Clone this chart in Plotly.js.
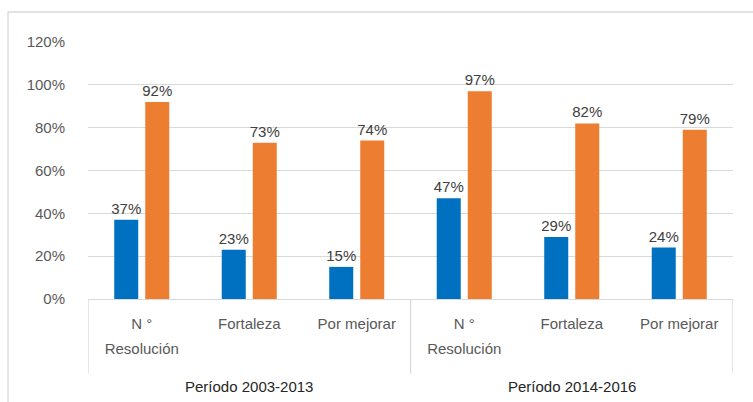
<!DOCTYPE html>
<html>
<head>
<meta charset="utf-8">
<script src="https://cdn.plot.ly/plotly-3.0.1.min.js"></script>
<style>html,body{margin:0;padding:0;background:#fff;}#chart{width:753px;height:402px;}</style>
</head>
<body>
<div id="chart"></div>
<script>
const periods = ["Período 2003-2013", "Período 2014-2016"];
const categories = ["N °<br>Resolución", "Fortaleza", "Por mejorar"];
const seriesBlue = [0.37, 0.23, 0.15, 0.47, 0.29, 0.24];
const seriesOrange = [0.92, 0.73, 0.74, 0.97, 0.82, 0.79];
const yTicks = [0, 0.2, 0.4, 0.6, 0.8, 1.0, 1.2];
const yTickText = ["0%", "20%", "40%", "60%", "80%", "100%", "120%"];

const xPos = [];
const xLabels = [];
const wrap15 = s => s.split("<br>").map(l => "<span style='font-size:15px'>" + l + "</span>").join("<br>");
periods.forEach((p, i) => categories.forEach((c, j) => { xPos.push(i * categories.length + j); xLabels.push(wrap15(c)); }));

const pct = v => Math.round(v * 100) + "%";
const font = {family: "Liberation Sans, Arial, sans-serif", size: 15, color: "#595959"};
const labelFont = {family: font.family, size: 15, color: "#404040"};

const traces = [
  {type: "bar", x: xPos, y: seriesBlue, marker: {color: "#0070C0"}, text: seriesBlue.map(pct),
   textposition: "outside", constraintext: "none", cliponaxis: false, textfont: labelFont, hoverinfo: "none"},
  {type: "bar", x: xPos, y: seriesOrange, marker: {color: "#ED7D31"}, text: seriesOrange.map(pct),
   textposition: "outside", constraintext: "none", cliponaxis: false, textfont: labelFont, hoverinfo: "none"}
];

const nG = categories.length;
const shapes = [];
for (let g = 0; g <= periods.length; g++) {
  shapes.push({type: "line", xref: "x", yref: "paper", x0: g * nG - 0.5, x1: g * nG - 0.5, y0: 0, y1: -0.29,
    line: {color: "#d9d9d9", width: 1.3}});
}
shapes.push({type: "rect", xref: "paper", yref: "paper", x0: -0.124, x1: 1.2, y0: -0.6, y1: 1.1167,
  line: {color: "#d9d9d9", width: 1.3}, fillcolor: "rgba(0,0,0,0)", layer: "below"});

const annotations = periods.map((p, i) => ({
  xref: "x", yref: "paper", x: i * nG + (nG - 1) / 2, y: -0.342, yanchor: "middle", showarrow: false,
  text: p, font: {family: font.family, size: 15, color: "#262626"}
}));

const layout = {
  width: 753, height: 402,
  margin: {l: 88, r: 20, t: 42, b: 103},
  paper_bgcolor: "#fff", plot_bgcolor: "#fff",
  barmode: "group", bargap: 0.423, bargroupgap: 0.226,
  showlegend: false,
  font: font,
  xaxis: {type: "linear", range: [-0.5, xPos.length - 0.5], tickvals: xPos, ticktext: xLabels,
    showgrid: false, zeroline: false, showline: true, linecolor: "#d9d9d9", linewidth: 1.3,
    ticks: "", ticklabelstandoff: 6, tickfont: {family: font.family, size: 19, color: "#595959"}, fixedrange: true},
  yaxis: {range: [0, 1.2], tickvals: yTicks, ticktext: yTickText, showgrid: true, gridcolor: "#d9d9d9",
    gridwidth: 1.3, zeroline: false, showline: false, ticks: "", ticklabelstandoff: 22, tickfont: font, fixedrange: true},
  shapes: shapes,
  annotations: annotations
};

Plotly.newPlot("chart", traces, layout, {displayModeBar: false, staticPlot: true});
</script>
</body>
</html>
